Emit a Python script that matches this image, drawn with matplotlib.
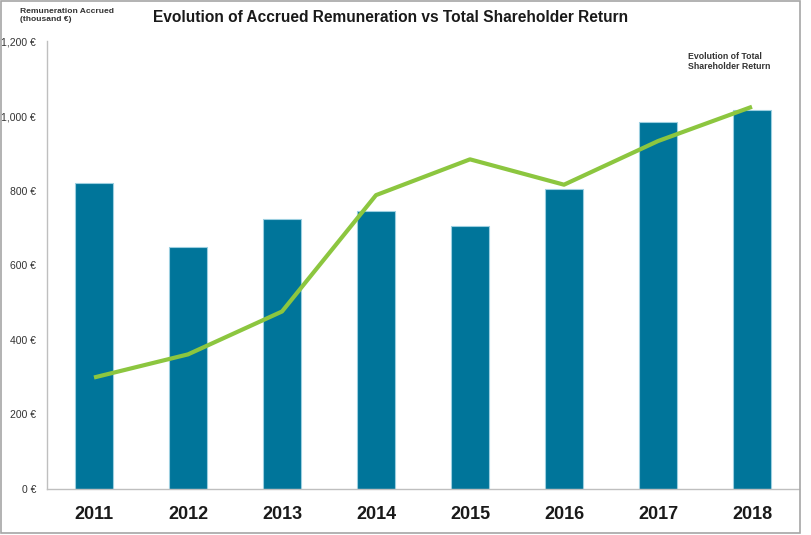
import matplotlib
matplotlib.use("Agg")
import matplotlib.pyplot as plt
from matplotlib.patches import Rectangle
from matplotlib.ticker import FuncFormatter

years = ["2011", "2012", "2013", "2014", "2015", "2016", "2017", "2018"]
remuneration = [821, 649, 724, 746, 706, 805, 984, 1015]
tsr_evolution = [299, 361, 476, 788, 884, 816, 933, 1025]
y_ticks = [0, 200, 400, 600, 800, 1000, 1200]

plt.rcParams['font.family'] = ['Liberation Sans', 'DejaVu Sans']

W, H = 811, 535
fig = plt.figure(figsize=(W / 100, H / 100), dpi=100)
ax = fig.add_axes([47 / W, (H - 489) / H, (799 - 47) / W, (489 - 41.5) / H])

x = list(range(len(years)))
ax.bar(x, remuneration, width=0.4, color="#00759A", edgecolor="#9CCFE0", linewidth=0.8, zorder=2)
ax.plot(x, tsr_evolution, color="#8CC63F", linewidth=3.0, solid_capstyle="butt", zorder=3)

ax.set_xlim(-0.5, len(years) - 0.5)
ax.set_ylim(0, 1200)
ax.set_yticks(y_ticks)
ax.yaxis.set_major_formatter(FuncFormatter(lambda v, p: f"{int(v):,} €"))
ax.tick_params(axis="y", length=0, pad=8, labelsize=7.5, labelcolor="#333333")
ax.set_xticks(x)
ax.set_xticklabels(years, fontsize=13, fontweight="bold")
ax.tick_params(axis="x", length=0, pad=12, labelcolor="#1a1a1a")

for s in ["top", "right"]:
    ax.spines[s].set_visible(False)
for s in ["left", "bottom"]:
    ax.spines[s].set_color("#BFBFBF")
    ax.spines[s].set_linewidth(1.0)

fig.text(391 / W, 1 - 18 / H, "Evolution of Accrued Remuneration vs Total Shareholder Return",
         ha="center", va="center", fontsize=11.2, fontweight="bold", color="#1a1a1a")
fig.text(20 / W, 1 - 8 / H, "Remuneration Accrued\n(thousand €)", ha="left", va="top",
         fontsize=6.1, fontweight="bold", color="#333333", linespacing=1.15)
fig.text(688 / W, 1 - 52 / H, "Evolution of Total\nShareholder Return", ha="left", va="top",
         fontsize=6.3, fontweight="bold", color="#333333", linespacing=1.15)

fig.patches.append(Rectangle((0.5 / W, 1 - 533 / H), 799.5 / W, 532 / H, transform=fig.transFigure,
                             fill=False, edgecolor="#A6A6A6", linewidth=1.2))

fig.savefig("out.png", dpi=100)
